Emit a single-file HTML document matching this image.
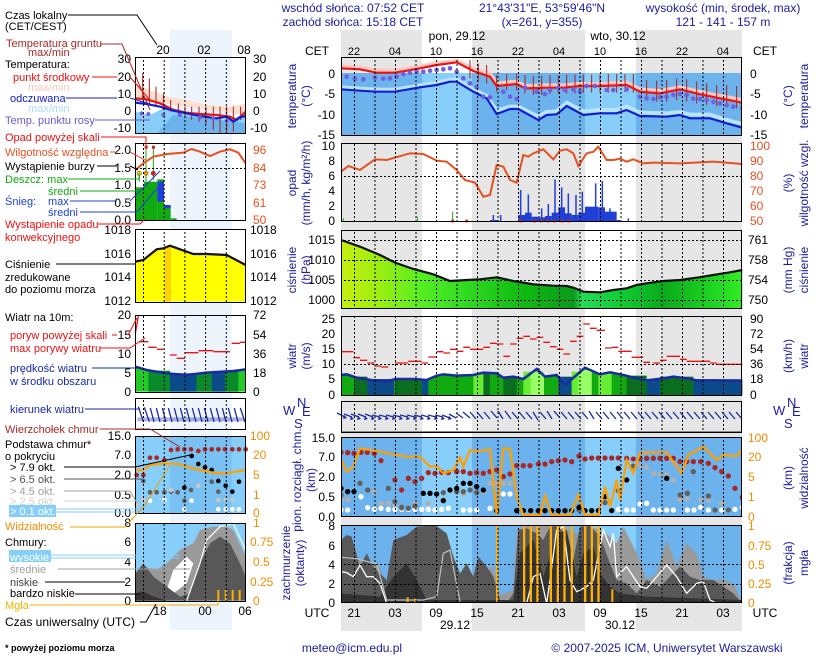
<!DOCTYPE html>
<html><head><meta charset="utf-8"><style>
html,body{margin:0;padding:0;background:#fff;width:820px;height:660px;overflow:hidden}
svg{display:block}
text{font-family:"Liberation Sans",sans-serif;font-size:11px}
.n{fill:#1c1c9c}
.s{vector-effect:non-scaling-stroke}
</style></head><body>
<svg width="820" height="660" viewBox="0 0 820 660" xmlns="http://www.w3.org/2000/svg">
<defs>
<pattern id="vg" x="354" y="0" width="20.5" height="4" patternUnits="userSpaceOnUse"><rect x="0" y="0" width="1" height="2" fill="#000"/></pattern>
<pattern id="mg" x="143" y="0" width="20.7" height="4" patternUnits="userSpaceOnUse"><rect x="0" y="0" width="1" height="2" fill="#000"/></pattern>
<pattern id="hg" x="0" y="0" width="4" height="4" patternUnits="userSpaceOnUse"><rect x="0" y="0" width="2" height="1" fill="#000"/></pattern>
<linearGradient id="pg" x1="0" x2="1" y1="0" y2="0">
<stop offset="0" stop-color="#c8ee10"/><stop offset="0.1" stop-color="#99ee11"/><stop offset="0.2" stop-color="#55ee22"/><stop offset="0.3" stop-color="#33dd22"/><stop offset="0.45" stop-color="#11bb11"/><stop offset="0.58" stop-color="#0a9a1a"/><stop offset="0.6" stop-color="#22dd55"/><stop offset="0.7" stop-color="#11cc33"/><stop offset="0.8" stop-color="#0aaa1a"/><stop offset="0.95" stop-color="#22dd22"/><stop offset="1" stop-color="#33ee22"/></linearGradient>
<clipPath id="cT"><rect x="341" y="57" width="401" height="78"/></clipPath>
<clipPath id="cC"><rect x="341" y="525" width="401" height="78"/></clipPath>
<clipPath id="cB"><rect x="341" y="437" width="401" height="80"/></clipPath>
<clipPath id="mT"><rect x="135" y="57" width="111" height="77"/></clipPath>
</defs>

<!-- header -->
<text class="n" x="353" y="12" text-anchor="middle" style="font-size:12px">wschód słońca: 07:52 CET</text>
<text class="n" x="353" y="26" text-anchor="middle" style="font-size:12px">zachód słońca: 15:18 CET</text>
<text class="n" x="542" y="12" text-anchor="middle" style="font-size:12px">21°43'31"E, 53°59'46"N</text>
<text class="n" x="542" y="26" text-anchor="middle" style="font-size:12px">(x=261,  y=355)</text>
<text class="n" x="723" y="12" text-anchor="middle" style="font-size:12px">wysokość (min, środek, max)</text>
<text class="n" x="723" y="26" text-anchor="middle" style="font-size:12px">121 - 141 - 157 m</text>

<!-- background columns -->
<rect x="341" y="30" width="401" height="601" fill="#e6e6e6"/>
<rect x="422" y="30" width="50" height="601" fill="#fff"/>
<rect x="585" y="30" width="51" height="601" fill="#fff"/>

<g style="font-size:12px">
<text x="457" y="40" text-anchor="middle" style="font-size:12px">pon, 29.12</text>
<text x="618" y="40" text-anchor="middle" style="font-size:12px">wto, 30.12</text>
<text x="317" y="55" text-anchor="middle" style="font-size:12px">CET</text><text x="765" y="55" text-anchor="middle" style="font-size:12px">CET</text>
</g>
<g text-anchor="middle"><text x="354" y="55">22</text><text x="395" y="55">04</text><text x="436" y="55">10</text><text x="477" y="55">16</text><text x="518" y="55">22</text><text x="559" y="55">04</text><text x="600" y="55">10</text><text x="641" y="55">16</text><text x="682" y="55">22</text><text x="723" y="55">04</text></g>

<!-- TEMP panel -->
<g clip-path="url(#cT)">
<rect x="341" y="73" width="401" height="62" fill="#6cb2ec"/>
<rect x="422" y="73" width="50" height="62" fill="#87cefa"/><rect x="585" y="73" width="51" height="62" fill="#87cefa"/>
<g transform="translate(280,0) scale(0.33333)">
<polyline class="s" fill="none" stroke="#fcc8c0" stroke-width="4" points="183,200 240,203 290,212 345,212 420,200 470,190 530,182 580,207 630,222 650,250 710,245 735,258 800,256 850,256 900,252 960,252 1040,248 1080,268 1140,273 1200,262 1260,276 1320,288 1387,300"/>
<polyline class="s" fill="none" stroke="#b8e4ff" stroke-width="4" points="183,262 240,266 290,269 345,269 420,256 470,249 510,239 530,239 580,268 620,288 650,332 690,320 715,320 775,350 800,336 830,334 860,308 910,334 960,330 1010,330 1040,320 1080,338 1160,340 1200,336 1230,344 1290,344 1340,360 1387,372"/>
<path class="s" d="M570 180V235M595 190V245M620 195V250M650 225V275M680 222V270M710 220V272M735 225V280M760 228V285M785 228V285M810 226V282M835 226V282M860 224V280M885 224V280M910 224V278M935 224V278M960 224V278M985 222V278M1010 222V278M1035 222V276M1060 222V278M1100 240V300M1130 242V305M1160 240V305M1190 235V300M1220 238V305M1250 245V310M1280 250V315M1310 255V318M1340 255V322M1370 258V325" stroke="#a82020" stroke-width="1"/>
<polyline class="s" fill="none" stroke="#ee1111" stroke-width="2.2" points="183,205 240,208 290,218 345,218 420,205 470,195 530,187 580,213 630,230 650,258 710,252 735,265 800,263 850,263 900,258 960,258 1040,255 1080,275 1140,280 1200,268 1260,283 1320,295 1387,308"/>
<polyline class="s" fill="none" stroke="#1020d0" stroke-width="2.2" points="183,268 240,272 290,275 345,275 420,262 470,255 510,245 530,245 580,275 620,295 650,342 690,327 715,327 775,360 800,345 830,343 860,318 910,345 960,340 1010,340 1040,330 1080,348 1160,350 1200,345 1230,355 1290,355 1340,370 1387,383"/>
<g fill="#7060e0">
<circle cx="200" cy="230" r="7"/><circle cx="225" cy="237" r="7"/><circle cx="250" cy="238" r="7"/><circle cx="285" cy="233" r="7"/><circle cx="310" cy="236" r="7"/><circle cx="330" cy="235" r="7"/><circle cx="350" cy="230" r="7"/><circle cx="370" cy="222" r="7"/><circle cx="390" cy="218" r="7"/><circle cx="410" cy="215" r="7"/><circle cx="430" cy="215" r="7"/><circle cx="450" cy="212" r="7"/><circle cx="470" cy="210" r="7"/><circle cx="490" cy="208" r="7"/><circle cx="510" cy="205" r="7"/><circle cx="530" cy="215" r="7"/><circle cx="550" cy="235" r="7"/><circle cx="570" cy="250" r="7"/><circle cx="590" cy="262" r="7"/><circle cx="610" cy="290" r="7"/><circle cx="630" cy="292" r="7"/><circle cx="670" cy="275" r="7"/><circle cx="690" cy="290" r="7"/><circle cx="710" cy="297" r="7"/><circle cx="735" cy="263" r="7"/><circle cx="770" cy="275" r="7"/><circle cx="795" cy="282" r="7"/><circle cx="810" cy="270" r="7"/><circle cx="835" cy="263" r="7"/><circle cx="855" cy="270" r="7"/><circle cx="880" cy="268" r="7"/><circle cx="900" cy="275" r="7"/><circle cx="920" cy="258" r="7"/><circle cx="945" cy="258" r="7"/><circle cx="980" cy="270" r="7"/><circle cx="1000" cy="270" r="7"/><circle cx="1040" cy="268" r="7"/><circle cx="1080" cy="290" r="7"/><circle cx="1100" cy="295" r="7"/><circle cx="1120" cy="297" r="7"/><circle cx="1140" cy="292" r="7"/><circle cx="1160" cy="290" r="7"/><circle cx="1180" cy="285" r="7"/><circle cx="1200" cy="282" r="7"/><circle cx="1220" cy="285" r="7"/><circle cx="1240" cy="296" r="7"/><circle cx="1260" cy="297" r="7"/><circle cx="1280" cy="300" r="7"/><circle cx="1300" cy="305" r="7"/><circle cx="1320" cy="310" r="7"/><circle cx="1340" cy="316" r="7"/><circle cx="1360" cy="320" r="7"/><circle cx="1387" cy="325" r="7"/>
</g>
</g>
</g>
<rect x="341" y="57" width="401" height="78" fill="url(#vg)"/>
<g fill="url(#hg)"><rect x="341" y="73" width="401" height="1"/><rect x="341" y="93" width="401" height="1"/><rect x="341" y="114" width="401" height="1"/></g>
<rect x="341.5" y="57.5" width="400" height="78" fill="none" stroke="#000"/>
<g text-anchor="end" style="font-size:12px"><text x="335" y="78" style="font-size:12px">0</text><text x="335" y="98" style="font-size:12px">-5</text><text x="335" y="119" style="font-size:12px">-10</text><text x="335" y="139" style="font-size:12px">-15</text></g>
<g><text x="750" y="78" style="font-size:12px">0</text><text x="750" y="98" style="font-size:12px">-5</text><text x="750" y="119" style="font-size:12px">-10</text><text x="750" y="139" style="font-size:12px">-15</text></g>

<!-- PRECIP panel -->
<g transform="translate(280,0) scale(0.33333)">
<g fill="#1f3fd6">
<rect x="715" y="645" width="20" height="20"/><rect x="735" y="638" width="20" height="27"/><rect x="755" y="650" width="20" height="15"/><rect x="775" y="652" width="20" height="13"/><rect x="795" y="648" width="20" height="17"/><rect x="815" y="638" width="20" height="27"/><rect x="835" y="622" width="20" height="43"/><rect x="855" y="640" width="20" height="25"/><rect x="875" y="645" width="20" height="20"/><rect x="895" y="638" width="20" height="27"/><rect x="915" y="620" width="40" height="45"/><rect x="955" y="622" width="20" height="43"/><rect x="975" y="635" width="35" height="30"/><rect x="1010" y="660" width="10" height="5"/><rect x="630" y="660" width="25" height="5"/>
</g>
<path class="s" stroke="#1f3fd6" stroke-width="1.5" fill="none" d="M722 665V570M745 665V583M785 665V625M805 665V612M825 665V538M845 665V562M865 665V580M888 665V585M907 665V575M947 665V550M967 665V543M990 665V625M1045 665V655M640 665V645M662 665V645"/>
<path class="s" stroke="#11aa11" stroke-width="1" fill="none" d="M190 665V655M412 665V650M518 665V635"/>
<g fill="#e02020"><rect x="514" y="659" width="8" height="8"/><rect x="556" y="659" width="8" height="8"/><rect x="718" y="659" width="8" height="8"/><rect x="760" y="659" width="8" height="8"/><rect x="780" y="659" width="8" height="8"/><rect x="800" y="659" width="8" height="8"/><rect x="820" y="659" width="8" height="8"/><rect x="842" y="659" width="8" height="8"/><rect x="862" y="659" width="8" height="8"/></g>
<polyline class="s" fill="none" stroke="#e85020" stroke-width="2" points="183,515 205,498 240,510 285,478 320,480 390,460 430,462 470,482 500,485 530,510 555,540 585,548 610,590 630,585 650,495 670,500 690,540 710,548 730,465 745,470 760,460 790,448 820,478 840,452 860,448 880,460 895,498 920,460 940,455 955,440 980,480 1000,480 1020,476 1040,485 1060,478 1090,490 1120,488 1200,490 1300,485 1387,492"/>
</g>
<rect x="341" y="143" width="401" height="79" fill="url(#vg)"/>
<g fill="url(#hg)"><rect x="341" y="161" width="401" height="1"/><rect x="341" y="176" width="401" height="1"/><rect x="341" y="191" width="401" height="1"/><rect x="341" y="206" width="401" height="1"/></g>
<rect x="341.5" y="143.5" width="400" height="78" fill="none" stroke="#000"/>
<g text-anchor="end"><text x="335" y="150" style="font-size:12px">10</text><text x="335" y="165" style="font-size:12px">8</text><text x="335" y="180" style="font-size:12px">6</text><text x="335" y="195" style="font-size:12px">4</text><text x="335" y="210" style="font-size:12px">2</text><text x="335" y="225" style="font-size:12px">0</text></g>
<g fill="#e85020"><text x="750" y="150" style="font-size:12px">100</text><text x="750" y="165" style="font-size:12px">90</text><text x="750" y="180" style="font-size:12px">80</text><text x="750" y="195" style="font-size:12px">70</text><text x="750" y="210" style="font-size:12px">60</text><text x="750" y="225" style="font-size:12px">50</text></g>

<!-- PRESSURE -->
<g transform="translate(280,225) scale(0.33333)">
<polygon fill="url(#pg)" points="183,45 240,65 300,90 345,113 400,132 460,148 510,168 560,165 600,163 650,157 700,168 760,178 820,182 860,183 880,188 910,200 960,202 1000,195 1040,190 1070,180 1100,175 1150,168 1200,165 1250,158 1300,150 1350,142 1387,135 1387,250 183,250"/>
<polyline class="s" fill="none" stroke="#111" stroke-width="2.2" points="183,45 240,65 300,90 345,113 400,132 460,148 510,168 560,165 600,163 650,157 700,168 760,178 820,182 860,183 880,188 910,200 960,202 1000,195 1040,190 1070,180 1100,175 1150,168 1200,165 1250,158 1300,150 1350,142 1387,135"/>
</g>
<rect x="341" y="230" width="401" height="78" fill="url(#vg)"/>
<g fill="url(#hg)"><rect x="341" y="240" width="401" height="1"/><rect x="341" y="260" width="401" height="1"/><rect x="341" y="280" width="401" height="1"/><rect x="341" y="300" width="401" height="1"/></g>
<rect x="341.5" y="230.5" width="400" height="78" fill="none" stroke="#000"/>
<g text-anchor="end"><text x="335" y="244" style="font-size:12px">1015</text><text x="335" y="264" style="font-size:12px">1010</text><text x="335" y="284" style="font-size:12px">1005</text><text x="335" y="304" style="font-size:12px">1000</text></g>
<g><text x="748" y="244" style="font-size:12px">761</text><text x="748" y="264" style="font-size:12px">758</text><text x="748" y="284" style="font-size:12px">754</text><text x="748" y="304" style="font-size:12px">750</text></g>

<!-- WIND -->
<g transform="translate(280,225) scale(0.33333)">
<polygon fill="#11aa11" points="183,450 200,448 230,458 280,466 320,470 345,462 400,462 440,465 470,452 490,448 530,452 580,450 610,443 650,445 670,458 700,455 730,462 770,432 795,455 830,450 855,480 915,428 960,448 990,442 1040,452 1060,458 1100,466 1150,460 1180,455 1220,460 1250,466 1300,466 1387,467 1387,510 183,510"/>
<g fill="#0a6e1e"><rect x="222" y="455" width="40" height="55"/><rect x="345" y="460" width="80" height="50"/><rect x="610" y="445" width="20" height="65"/><rect x="670" y="455" width="40" height="55"/><rect x="1040" y="452" width="60" height="58"/><rect x="1140" y="455" width="100" height="55"/></g>
<g fill="#0b4b8a"><rect x="262" y="462" width="80" height="48"/><rect x="425" y="462" width="20" height="48"/><rect x="835" y="455" width="40" height="55"/><rect x="1100" y="463" width="40" height="47"/><rect x="1240" y="463" width="147" height="47"/></g>
<g fill="#66ee33"><rect x="580" y="448" width="30" height="62"/><rect x="730" y="440" width="60" height="70"/><rect x="875" y="440" width="60" height="70"/><rect x="955" y="445" width="40" height="65"/></g>
<g fill="#99ff66"><rect x="752" y="440" width="40" height="70"/><rect x="895" y="435" width="40" height="75"/></g>
<polyline class="s" fill="none" stroke="#1a2aa0" stroke-width="2.5" points="183,450 200,448 230,458 280,466 320,470 345,462 400,462 440,465 470,452 490,448 530,452 580,450 610,443 650,445 670,458 700,455 730,462 770,432 795,455 830,450 855,480 915,428 960,448 990,442 1040,452 1060,458 1100,466 1150,460 1180,455 1220,460 1250,466 1300,466 1387,467"/>
<path class="s" stroke="#ee1111" stroke-width="1.3" fill="none" d="M183 380H220M220 398H240M240 406H262M262 414H283M283 423H303M303 426H325M345 414H385M385 409H425M425 414H445M445 396H470M470 380H490M490 384H510M510 373H530M530 379H550M550 367H570M570 373H610M610 367H630M630 355H650M650 357H670M670 394H690M690 357H710M710 340H730M730 334H750M750 342H770M770 337H790M790 352H810M810 365H830M830 373H850M850 387H870M870 349H890M890 334H910M910 297H930M930 310H950M950 316H975M975 369H995M995 367H1015M1015 379H1055M1055 397H1090M1090 412H1110M1120 414H1140M1140 406H1160M1160 394H1200M1200 403H1220M1220 409H1250M1250 409H1290M1290 414H1310M1310 418H1387"/>
</g>
<rect x="341" y="316" width="401" height="79" fill="url(#vg)"/>
<g fill="url(#hg)"><rect x="341" y="334" width="401" height="1"/><rect x="341" y="349" width="401" height="1"/><rect x="341" y="364" width="401" height="1"/><rect x="341" y="379" width="401" height="1"/></g>
<rect x="341.5" y="316.5" width="400" height="79" fill="none" stroke="#000"/>
<g text-anchor="end"><text x="335" y="323" style="font-size:12px">25</text><text x="335" y="338" style="font-size:12px">20</text><text x="335" y="353" style="font-size:12px">15</text><text x="335" y="368" style="font-size:12px">10</text><text x="335" y="383" style="font-size:12px">5</text><text x="335" y="399" style="font-size:12px">0</text></g>
<g><text x="750" y="323" style="font-size:12px">90</text><text x="750" y="338" style="font-size:12px">72</text><text x="750" y="353" style="font-size:12px">54</text><text x="750" y="368" style="font-size:12px">36</text><text x="750" y="383" style="font-size:12px">18</text><text x="750" y="399" style="font-size:12px">0</text></g>

<!-- WIND DIR -->
<rect x="341" y="401" width="401" height="31" fill="url(#vg)"/>
<rect x="341" y="431" width="401" height="2" fill="#888"/>
<rect x="341.5" y="401.5" width="400" height="31" fill="none" stroke="#000"/>
<g stroke="#1a2aa0" stroke-width="1.3" fill="none">
<path d="M337 413l8 4M344 414l8 3M351 414l8 3M358 414l8 3M365 414l8 3M372 415l8 2M379 415l8 2M386 415l8 2M393 415l8 2M400 415l8 2M407 415l8 2M414 415l8 2M421 415l8 2M428 415l8 2M435 415l8 2M442 415l8 3M449 414l7 4M456 413l7 5M463 412l7 6M470 412l6 7M477 412l6 7M484 412l6 7M491 411l6 7M498 411l5 8M505 411l6 8M512 412l6 7M519 412l6 7M526 412l6 7M533 412l5 8M540 412l6 7M547 411l5 8M554 411l6 7M561 412l6 7M568 412l6 7M575 412l6 7M582 412l6 7M589 411l5 8M596 412l6 7M603 412l6 7M610 412l6 7M617 412l6 7M624 412l6 7M631 412l6 7M638 412l6 7M645 412l6 7M652 412l6 7M659 412l6 7M666 412l6 7M673 412l6 7M680 412l6 7M687 412l6 7M694 412l6 7M701 412l6 7M708 412l6 7M715 412l6 7M722 412l6 7M729 412l6 7M736 412l6 7"/>
</g>
<g fill="#1a2aa0"><path d="M344 415l3 3l-4 1zM351 416l3 3l-4 1zM358 416l3 3l-4 1zM365 416l3 3l-4 1zM372 416l3 3l-4 1zM379 416l3 3l-4 1zM386 416l3 3l-4 1zM393 416l3 3l-4 1zM400 416l3 3l-4 1zM407 416l3 3l-4 1zM414 416l3 3l-4 1zM421 416l3 3l-4 1zM428 416l3 3l-4 1zM435 416l3 3l-4 1zM442 416l3 3l-4 1zM449 416l3 3l-4 1z"/></g>
<text class="n" x="283" y="415" style="font-size:13px">W</text><text class="n" x="297" y="407" style="font-size:13px">N</text><text class="n" x="294" y="428" style="font-size:13px">S</text><text class="n" x="302" y="416" style="font-size:13px">E</text>
<text class="n" x="773" y="415" style="font-size:13px">W</text><text class="n" x="787" y="407" style="font-size:13px">N</text><text class="n" x="784" y="428" style="font-size:13px">S</text><text class="n" x="792" y="416" style="font-size:13px">E</text>

<!-- CLOUD BASE -->
<g clip-path="url(#cB)">
<rect x="341" y="437" width="401" height="80" fill="#6cb2ec"/>
<rect x="422" y="437" width="50" height="80" fill="#87cefa"/><rect x="585" y="437" width="51" height="80" fill="#87cefa"/>
<g transform="translate(280,420) scale(0.33333)">
<g fill="#a82828"><circle cx="183" cy="97" r="8"/><circle cx="203" cy="98" r="8"/><circle cx="222" cy="100" r="8"/><circle cx="243" cy="97" r="8"/><circle cx="262" cy="97" r="8"/><circle cx="283" cy="100" r="8"/><circle cx="303" cy="122" r="8"/><circle cx="345" cy="180" r="8"/><circle cx="365" cy="210" r="8"/><circle cx="385" cy="175" r="8"/><circle cx="405" cy="185" r="8"/><circle cx="425" cy="175" r="8"/><circle cx="445" cy="158" r="8"/><circle cx="465" cy="160" r="8"/><circle cx="485" cy="157" r="8"/><circle cx="505" cy="158" r="8"/><circle cx="530" cy="155" r="8"/><circle cx="550" cy="155" r="8"/><circle cx="570" cy="160" r="8"/><circle cx="590" cy="158" r="8"/><circle cx="610" cy="160" r="8"/><circle cx="630" cy="155" r="8"/><circle cx="650" cy="150" r="8"/><circle cx="670" cy="170" r="8"/><circle cx="690" cy="162" r="8"/><circle cx="710" cy="137" r="8"/><circle cx="730" cy="137" r="8"/><circle cx="750" cy="137" r="8"/><circle cx="775" cy="132" r="8"/><circle cx="795" cy="132" r="8"/><circle cx="815" cy="125" r="8"/><circle cx="835" cy="122" r="8"/><circle cx="855" cy="120" r="8"/><circle cx="875" cy="125" r="8"/><circle cx="897" cy="108" r="8"/><circle cx="915" cy="117" r="8"/><circle cx="935" cy="114" r="8"/><circle cx="955" cy="114" r="8"/><circle cx="975" cy="114" r="8"/><circle cx="995" cy="114" r="8"/><circle cx="1015" cy="114" r="8"/><circle cx="1040" cy="115" r="8"/><circle cx="1060" cy="117" r="8"/><circle cx="1080" cy="115" r="8"/><circle cx="1100" cy="115" r="8"/><circle cx="1120" cy="115" r="8"/><circle cx="1140" cy="115" r="8"/><circle cx="1160" cy="115" r="8"/><circle cx="1180" cy="115" r="8"/><circle cx="1200" cy="125" r="8"/><circle cx="1220" cy="125" r="8"/><circle cx="1240" cy="125" r="8"/><circle cx="1262" cy="125" r="8"/><circle cx="1285" cy="130" r="8"/><circle cx="1305" cy="143" r="8"/><circle cx="1325" cy="155" r="8"/><circle cx="1345" cy="168" r="8"/><circle cx="1365" cy="205" r="8"/><circle cx="1387" cy="232" r="8"/></g>
<g fill="#ffffff"><circle cx="183" cy="270" r="8"/><circle cx="203" cy="270" r="8"/><circle cx="243" cy="230" r="8"/><circle cx="263" cy="263" r="8"/><circle cx="283" cy="268" r="8"/><circle cx="303" cy="265" r="8"/><circle cx="325" cy="268" r="8"/><circle cx="345" cy="268" r="8"/><circle cx="365" cy="268" r="8"/><circle cx="385" cy="268" r="8"/><circle cx="405" cy="268" r="8"/><circle cx="425" cy="268" r="8"/><circle cx="445" cy="268" r="8"/><circle cx="465" cy="270" r="8"/><circle cx="485" cy="268" r="8"/><circle cx="505" cy="265" r="8"/><circle cx="550" cy="270" r="8"/><circle cx="570" cy="270" r="8"/><circle cx="590" cy="270" r="8"/><circle cx="630" cy="265" r="8"/><circle cx="670" cy="222" r="8"/><circle cx="690" cy="222" r="8"/><circle cx="1015" cy="268" r="8"/><circle cx="1040" cy="270" r="8"/><circle cx="1060" cy="270" r="8"/><circle cx="1080" cy="252" r="8"/><circle cx="1100" cy="250" r="8"/><circle cx="1120" cy="270" r="8"/><circle cx="1140" cy="270" r="8"/><circle cx="1160" cy="270" r="8"/><circle cx="1180" cy="270" r="8"/><circle cx="1222" cy="270" r="8"/><circle cx="1242" cy="270" r="8"/><circle cx="1262" cy="262" r="8"/><circle cx="1285" cy="270" r="8"/><circle cx="1325" cy="270" r="8"/><circle cx="1345" cy="270" r="8"/><circle cx="1365" cy="268" r="8"/><circle cx="1387" cy="262" r="8"/></g>
<g fill="#b0b0b0"><circle cx="183" cy="240" r="8"/><circle cx="203" cy="238" r="8"/><circle cx="283" cy="215" r="8"/><circle cx="303" cy="250" r="8"/><circle cx="325" cy="250" r="8"/><circle cx="345" cy="255" r="8"/><circle cx="365" cy="265" r="8"/><circle cx="405" cy="250" r="8"/><circle cx="445" cy="250" r="8"/><circle cx="490" cy="240" r="8"/><circle cx="550" cy="222" r="8"/><circle cx="610" cy="215" r="8"/><circle cx="630" cy="190" r="8"/><circle cx="650" cy="190" r="8"/><circle cx="670" cy="190" r="8"/><circle cx="690" cy="190" r="8"/><circle cx="1080" cy="137" r="8"/><circle cx="1100" cy="142" r="8"/><circle cx="1120" cy="160" r="8"/><circle cx="1140" cy="162" r="8"/><circle cx="1160" cy="165" r="8"/><circle cx="1180" cy="180" r="8"/><circle cx="1200" cy="238" r="8"/><circle cx="1222" cy="237" r="8"/><circle cx="1262" cy="240" r="8"/><circle cx="1285" cy="240" r="8"/><circle cx="1325" cy="250" r="8"/></g>
<g fill="#606060"><circle cx="183" cy="225" r="8"/><circle cx="240" cy="190" r="8"/><circle cx="263" cy="210" r="8"/><circle cx="325" cy="205" r="8"/><circle cx="345" cy="245" r="8"/><circle cx="365" cy="262" r="8"/><circle cx="385" cy="265" r="8"/><circle cx="405" cy="258" r="8"/><circle cx="490" cy="218" r="8"/><circle cx="530" cy="215" r="8"/><circle cx="550" cy="215" r="8"/><circle cx="570" cy="210" r="8"/><circle cx="590" cy="218" r="8"/><circle cx="897" cy="270" r="8"/><circle cx="975" cy="248" r="8"/><circle cx="1015" cy="212" r="8"/><circle cx="1060" cy="138" r="8"/><circle cx="1200" cy="225" r="8"/><circle cx="1222" cy="220" r="8"/><circle cx="1240" cy="155" r="8"/><circle cx="1285" cy="228" r="8"/><circle cx="1305" cy="270" r="8"/><circle cx="1345" cy="270" r="8"/></g>
<g fill="#000"><circle cx="183" cy="205" r="8"/><circle cx="203" cy="215" r="8"/><circle cx="222" cy="215" r="8"/><circle cx="430" cy="220" r="8"/><circle cx="450" cy="220" r="8"/><circle cx="470" cy="222" r="8"/><circle cx="490" cy="242" r="8"/><circle cx="510" cy="210" r="8"/><circle cx="530" cy="205" r="8"/><circle cx="550" cy="190" r="8"/><circle cx="570" cy="190" r="8"/><circle cx="590" cy="200" r="8"/><circle cx="610" cy="210" r="8"/><circle cx="650" cy="272" r="8"/><circle cx="710" cy="272" r="8"/><circle cx="730" cy="272" r="8"/><circle cx="752" cy="272" r="8"/><circle cx="775" cy="272" r="8"/><circle cx="795" cy="272" r="8"/><circle cx="815" cy="272" r="8"/><circle cx="835" cy="272" r="8"/><circle cx="855" cy="272" r="8"/><circle cx="875" cy="272" r="8"/><circle cx="897" cy="262" r="8"/><circle cx="915" cy="272" r="8"/><circle cx="935" cy="272" r="8"/><circle cx="955" cy="272" r="8"/><circle cx="975" cy="230" r="8"/><circle cx="995" cy="272" r="8"/><circle cx="1015" cy="145" r="8"/><circle cx="1040" cy="180" r="8"/><circle cx="1160" cy="175" r="8"/></g>
<polyline class="s" fill="none" stroke="#ffa000" stroke-width="2.2" points="183,118 200,155 220,140 240,85 300,95 380,110 420,110 450,140 470,138 490,160 520,150 540,112 550,140 570,90 590,95 630,88 650,285 670,85 690,87 710,230 730,285 780,285 795,228 815,285 870,285 895,225 915,285 955,285 975,200 990,260 1010,180 1020,240 1040,120 1060,160 1080,98 1120,97 1160,97 1190,140 1205,160 1225,105 1270,80 1310,120 1330,105 1370,108 1387,88"/>
</g>
</g>
<rect x="341" y="437" width="401" height="80" fill="url(#vg)"/>
<g fill="url(#hg)"><rect x="341" y="457" width="401" height="1"/><rect x="341" y="477" width="401" height="1"/><rect x="341" y="497" width="401" height="1"/></g>
<rect x="341.5" y="437.5" width="400" height="79" fill="none" stroke="#000"/>
<g text-anchor="end"><text x="335" y="442" style="font-size:12px">15.0</text><text x="335" y="461" style="font-size:12px">7.0</text><text x="335" y="481" style="font-size:12px">2.0</text><text x="335" y="501" style="font-size:12px">0.5</text><text x="335" y="521" style="font-size:12px">0.0</text></g>
<g fill="#f08c00"><text x="748" y="442" style="font-size:12px">100</text><text x="748" y="461" style="font-size:12px">20</text><text x="748" y="481" style="font-size:12px">5</text><text x="748" y="501" style="font-size:12px">1</text><text x="748" y="521" style="font-size:12px">0</text></g>

<!-- CLOUD COVER -->
<g clip-path="url(#cC)">
<rect x="341" y="525" width="401" height="78" fill="#6cb2ec"/>
<rect x="422" y="525" width="50" height="78" fill="#87cefa"/><rect x="585" y="525" width="51" height="78" fill="#87cefa"/>
<g transform="translate(280,420) scale(0.33333)">
<polygon fill="#9a9a9a" points="183,550 183,410 230,420 270,425 300,440 320,540 470,540 490,400 510,390 530,550 560,545 585,445 600,420 620,450 640,440 660,525 700,510 710,330 740,318 800,318 840,318 870,330 900,345 920,318 960,330 990,350 1010,370 1030,320 1050,360 1070,400 1100,480 1130,460 1160,360 1190,440 1220,370 1250,400 1270,470 1300,480 1330,480 1360,490 1387,550"/>
<polygon fill="#585858" points="183,550 183,360 200,345 215,350 240,440 260,400 280,440 300,460 320,480 340,360 380,345 410,320 440,318 470,318 500,340 520,410 540,460 560,430 580,470 595,410 620,440 640,470 660,540 680,550 700,520 715,330 740,325 770,340 790,360 810,320 840,318 860,380 880,420 900,320 930,318 960,350 990,430 1010,480 1040,490 1070,520 1100,480 1140,500 1170,470 1200,440 1230,470 1260,480 1300,480 1330,500 1360,520 1387,550"/>
<polygon fill="#333" points="183,550 183,520 300,530 340,470 380,430 410,480 440,540 700,540 720,400 760,360 790,470 830,340 860,330 890,470 910,400 940,380 960,460 990,500 1020,520 1100,530 1387,540 1387,550"/>
<polyline class="s" fill="none" stroke="#fff" stroke-width="1.3" points="183,455 200,458 220,470 240,435 260,470 280,470 300,490 320,550 740,550 760,470 780,460 800,550 810,480 830,330 850,320 870,480 890,515 920,500 940,480 970,330 990,380 1000,340 1010,470 1040,440 1060,470 1080,500 1100,505 1130,470 1160,435 1190,470 1220,520 1250,490 1270,485 1290,540 1310,550"/>
<polyline class="s" fill="none" stroke="#c0c0c0" stroke-width="1.2" points="183,412 230,416 290,432 320,540 430,540 470,530 490,400 510,390 540,545"/>
<g fill="#ffb000"><rect x="648" y="318" width="6" height="232"/><rect x="729" y="318" width="7" height="232"/><rect x="749" y="318" width="7" height="232"/><rect x="769" y="318" width="7" height="232"/><rect x="809" y="318" width="7" height="232"/><rect x="830" y="318" width="7" height="232"/><rect x="850" y="318" width="7" height="232"/><rect x="872" y="318" width="7" height="232"/><rect x="912" y="318" width="7" height="232"/><rect x="932" y="318" width="7" height="232"/><rect x="952" y="318" width="7" height="232"/><rect x="380" y="532" width="6" height="18"/><rect x="402" y="536" width="6" height="14"/><rect x="994" y="508" width="6" height="42"/></g>
</g>
</g>
<rect x="341" y="525" width="401" height="78" fill="url(#vg)"/>
<g fill="url(#hg)"><rect x="341" y="545" width="401" height="1"/><rect x="341" y="564" width="401" height="1"/><rect x="341" y="584" width="401" height="1"/></g>
<rect x="341.5" y="525.5" width="400" height="77" fill="none" stroke="#000"/>
<g text-anchor="end"><text x="335" y="530" style="font-size:12px">8</text><text x="335" y="550" style="font-size:12px">6</text><text x="335" y="569" style="font-size:12px">4</text><text x="335" y="588" style="font-size:12px">2</text><text x="335" y="607" style="font-size:12px">0</text></g>
<g fill="#f08c00"><text x="748" y="530" style="font-size:12px">1</text><text x="748" y="550" style="font-size:12px">0.75</text><text x="748" y="569" style="font-size:12px">0.5</text><text x="748" y="588" style="font-size:12px">0.25</text><text x="748" y="607" style="font-size:12px">0</text></g>

<text x="317" y="617" text-anchor="middle" style="font-size:12px">UTC</text><text x="765" y="617" text-anchor="middle" style="font-size:12px">UTC</text>
<g text-anchor="middle"><text x="354" y="617" style="font-size:12px">21</text><text x="395" y="617" style="font-size:12px">03</text><text x="436" y="617" style="font-size:12px">09</text><text x="477" y="617" style="font-size:12px">15</text><text x="518" y="617" style="font-size:12px">21</text><text x="559" y="617" style="font-size:12px">03</text><text x="600" y="617" style="font-size:12px">09</text><text x="641" y="617" style="font-size:12px">15</text><text x="682" y="617" style="font-size:12px">21</text><text x="723" y="617" style="font-size:12px">03</text>
<text x="455" y="629" style="font-size:12px">29.12</text><text x="620" y="629" style="font-size:12px">30.12</text></g>

<!-- rotated axis labels -->
<g class="n" text-anchor="middle">
<text transform="translate(296,96) rotate(-90)" style="font-size:12px">temperatura</text><text transform="translate(310,96) rotate(-90)" style="font-size:12px">(°C)</text>
<text transform="translate(792,96) rotate(-90)" style="font-size:12px">(°C)</text><text transform="translate(808,96) rotate(-90)" style="font-size:12px">temperatura</text>
<text transform="translate(296,183) rotate(-90)" style="font-size:12px">opad</text><text transform="translate(310,183) rotate(-90)" style="font-size:12px">(mm/h, kg/m²/h)</text>
<text transform="translate(792,183) rotate(-90)" style="font-size:12px">(%)</text><text transform="translate(808,183) rotate(-90)" style="font-size:12px">wilgotność wzgl.</text>
<text transform="translate(296,270) rotate(-90)" style="font-size:12px">ciśnienie</text><text transform="translate(310,270) rotate(-90)" style="font-size:12px">(hPa)</text>
<text transform="translate(792,270) rotate(-90)" style="font-size:12px">(mm Hg)</text><text transform="translate(808,270) rotate(-90)" style="font-size:12px">ciśnienie</text>
<text transform="translate(296,356) rotate(-90)" style="font-size:12px">wiatr</text><text transform="translate(310,356) rotate(-90)" style="font-size:12px">(m/s)</text>
<text transform="translate(792,356) rotate(-90)" style="font-size:12px">(km/h)</text><text transform="translate(808,356) rotate(-90)" style="font-size:12px">wiatr</text>
<text transform="translate(301,480) rotate(-90)" style="font-size:12px">pion. rozciągł. chm.</text><text transform="translate(315,480) rotate(-90)" style="font-size:12px">(km)</text>
<text transform="translate(792,478) rotate(-90)" style="font-size:12px">(km)</text><text transform="translate(808,478) rotate(-90)" style="font-size:12px">widzialność</text>
<text transform="translate(290,563) rotate(-90)" style="font-size:12px">zachmurzenie</text><text transform="translate(304,563) rotate(-90)" style="font-size:12px">(oktanty)</text>
<text transform="translate(792,563) rotate(-90)" style="font-size:12px">(frakcja)</text><text transform="translate(808,563) rotate(-90)" style="font-size:12px">mgła</text>
</g>

<!-- footer -->
<text class="n" x="352" y="652" text-anchor="middle" style="font-size:12px">meteo@icm.edu.pl</text>
<text class="n" x="667" y="652" text-anchor="middle" style="font-size:12px">© 2007-2025 ICM, Uniwersytet Warszawski</text>

<!-- ===== LEFT LEGEND MINI CHART ===== -->
<rect x="170" y="30" width="62" height="600" fill="#eef4fc"/>
<g text-anchor="middle"><text x="163" y="54" style="font-size:12px">20</text><text x="204" y="54" style="font-size:12px">02</text><text x="244" y="54" style="font-size:12px">08</text>
<text x="160" y="615" style="font-size:12px">18</text><text x="205" y="615" style="font-size:12px">00</text><text x="245" y="615" style="font-size:12px">06</text></g>

<g transform="scale(0.33333)">
<g clip-path="url(#mT)" transform="scale(3)"><g transform="scale(0.33333)">
<rect x="406" y="170" width="331" height="233" fill="#fff"/>
<rect x="510" y="170" width="185" height="233" fill="#eef4fc"/>
<polygon fill="#fde0d0" points="406,250 450,270 500,290 560,300 620,315 690,320 737,310 737,345 406,300"/>
<polygon fill="#87cefa" points="406,335 450,345 500,320 560,335 600,350 640,355 690,360 737,340 737,403 406,403"/>
<polygon fill="#6cb2ec" points="470,403 520,345 600,352 737,370 737,403"/>
<path class="s" stroke="#a82020" fill="none" d="M428 220V300M448 235V310M468 260V320M490 280V330M512 300V335M535 310V345M555 320V355M575 320V360M597 320V365M618 320V375M640 320V390M660 320V400M680 320V400M700 320V395M722 320V360"/>
<polyline class="s" fill="none" stroke="#ee1111" stroke-width="2.2" points="406,295 440,298 480,310 520,330 560,338 600,342 650,345 690,350 710,360 737,335"/>
<polyline class="s" fill="none" stroke="#1020d0" stroke-width="2.2" points="406,308 440,312 480,320 520,332 560,340 600,348 650,355 680,350 700,365 720,352 737,348"/>
<g fill="#7060e0"><circle cx="425" cy="340" r="6"/><circle cx="445" cy="342" r="6"/><circle cx="490" cy="345" r="6"/><circle cx="540" cy="345" r="6"/><circle cx="600" cy="352" r="6"/><circle cx="640" cy="355" r="6"/><circle cx="680" cy="362" r="6"/></g>
</g></g>
<rect x="406" y="430" width="331" height="230" fill="#fff"/>
<rect x="510" y="430" width="185" height="230" fill="#eef4fc"/>
<g fill="#11aa11"><rect x="406" y="562" width="26" height="98"/><rect x="432" y="545" width="40" height="115"/><rect x="472" y="538" width="20" height="122"/><rect x="492" y="620" width="20" height="40"/><rect x="512" y="655" width="18" height="5"/></g>
<g fill="#1f3fd6"><rect x="472" y="545" width="20" height="60"/><rect x="492" y="615" width="20" height="10"/></g>
<path class="s" stroke="#11aa11" fill="none" d="M418 520V545M438 441V545M460 441V540"/>
<g fill="#e02020"><rect x="434" y="437" width="9" height="9"/><rect x="456" y="437" width="9" height="9"/></g>
<circle cx="418" cy="520" r="6" fill="#ffe000" stroke="#8a5000" stroke-width="2"/><circle cx="438" cy="520" r="6" fill="#f0a000" stroke="#8a5000" stroke-width="2"/><circle cx="460" cy="520" r="6" fill="#e02020" stroke="#8a2000" stroke-width="2"/>
<polyline class="s" fill="none" stroke="#e85020" stroke-width="2" points="406,510 430,490 460,470 500,462 550,458 575,447 600,455 630,468 660,455 690,448 715,458 737,490"/>
<rect x="406" y="688" width="331" height="217" fill="#fff"/>
<polygon fill="#ffff00" points="406,785 430,780 470,748 490,745 510,737 540,748 580,762 620,762 680,765 737,795 737,905 406,905"/>
<rect x="495" y="740" width="18" height="165" fill="#ffd200"/>
<polyline class="s" fill="none" stroke="#111" stroke-width="2.2" points="406,785 430,780 470,748 490,745 510,737 540,748 580,762 620,762 680,765 737,795"/>
</g>
<g transform="translate(0,310) scale(0.33333)">
<rect x="406" y="15" width="331" height="230" fill="#fff"/>
<rect x="510" y="15" width="185" height="230" fill="#eef4fc"/>
<polygon fill="#22cc22" points="406,170 440,180 500,190 560,195 620,188 700,183 737,178 737,245 406,245"/>
<rect x="445" y="182" width="65" height="63" fill="#0a8a2a"/><rect x="510" y="190" width="80" height="55" fill="#0b4b8a"/><rect x="590" y="188" width="45" height="57" fill="#0a8a2a"/><rect x="635" y="186" width="40" height="59" fill="#0b4b8a"/><rect x="675" y="184" width="40" height="61" fill="#0a8a2a"/>
<polyline class="s" fill="none" stroke="#1a2aa0" stroke-width="2.5" points="406,170 440,180 500,190 560,195 620,188 700,183 737,178"/>
<path class="s" stroke="#ee1111" fill="none" stroke-width="1.3" d="M406 70L415 18M420 95H445M445 112H470M470 118H490M510 135H530M530 145H555M555 128H595M595 122H640M640 125H690M695 100H720M720 97H737"/>
<rect x="406" y="265" width="331" height="93" fill="#fff"/>
<rect x="510" y="265" width="185" height="93" fill="#eef4fc"/>
<path class="s" stroke="#1a2aa0" stroke-width="1.3" fill="none" d="M415 290L430 335M433 292L448 335M451 294L462 336M469 294L480 336M487 294L498 336M505 294L516 336M523 294L534 336M541 294L552 336M559 294L570 336M577 294L588 336M595 294L606 336M613 294L624 336M631 294L642 336M649 294L660 336M667 294L678 336M685 294L696 336M703 294L714 336M721 294L735 336"/>
<g fill="#1a2aa0"><rect x="412" y="322" width="320" height="12" opacity="0.35"/></g>
<rect x="406" y="378" width="331" height="232" fill="#87cefa"/>
<rect x="510" y="378" width="185" height="232" fill="#6cb2ec" opacity="0.5"/>
<g fill="#a82828"><circle cx="410" cy="495" r="7"/><circle cx="430" cy="495" r="7"/><circle cx="450" cy="443" r="7"/><circle cx="470" cy="443" r="7"/><circle cx="493" cy="450" r="7"/><circle cx="513" cy="420" r="7"/><circle cx="533" cy="418" r="7"/><circle cx="553" cy="418" r="7"/><circle cx="573" cy="418" r="7"/><circle cx="595" cy="423" r="7"/><circle cx="615" cy="418" r="7"/><circle cx="635" cy="418" r="7"/><circle cx="655" cy="418" r="7"/><circle cx="675" cy="418" r="7"/><circle cx="697" cy="418" r="7"/><circle cx="717" cy="418" r="7"/><circle cx="737" cy="418" r="7"/></g>
<g fill="#000"><circle cx="575" cy="438" r="7"/><circle cx="595" cy="462" r="7"/><circle cx="615" cy="472" r="7"/><circle cx="635" cy="480" r="7"/><circle cx="655" cy="513" r="7"/><circle cx="677" cy="527" r="7"/><circle cx="697" cy="545" r="7"/><circle cx="717" cy="515" r="7"/><circle cx="553" cy="533" r="7"/></g>
<g fill="#606060"><circle cx="430" cy="513" r="7"/><circle cx="450" cy="547" r="7"/><circle cx="470" cy="547" r="7"/><circle cx="493" cy="547" r="7"/><circle cx="513" cy="545" r="7"/><circle cx="533" cy="547" r="7"/><circle cx="573" cy="540" r="7"/><circle cx="635" cy="515" r="7"/><circle cx="655" cy="545" r="7"/><circle cx="553" cy="572" r="7"/></g>
<g fill="#c8c8c8"><circle cx="430" cy="570" r="7"/><circle cx="513" cy="540" r="7"/><circle cx="595" cy="527" r="7"/><circle cx="655" cy="570" r="7"/><circle cx="677" cy="570" r="7"/><circle cx="697" cy="570" r="7"/><circle cx="410" cy="585" r="7"/></g>
<g fill="#fff"><circle cx="450" cy="572" r="7"/><circle cx="493" cy="570" r="7"/><circle cx="553" cy="598" r="7"/><circle cx="575" cy="572" r="7"/><circle cx="655" cy="598" r="7"/><circle cx="677" cy="598" r="7"/><circle cx="697" cy="598" r="7"/><circle cx="717" cy="598" r="7"/></g>
<polyline class="s" fill="none" stroke="#ffa000" stroke-width="2.2" points="406,480 430,480 450,465 500,460 540,463 560,470 600,480 650,490 680,490 737,480"/>
<rect x="406" y="640" width="331" height="232" fill="#87cefa"/>
<polygon fill="#9a9a9a" points="406,872 406,800 430,770 470,780 500,760 540,720 580,700 600,660 640,650 680,650 700,660 737,740 737,872"/>
<polygon fill="#fff" points="500,840 520,780 560,740 580,760 560,820 520,850"/>
<polygon fill="#585858" points="406,872 406,790 430,760 460,800 500,830 540,860 570,850 600,760 630,700 660,680 690,700 720,760 737,800 737,872"/>
<polygon fill="#333" points="406,872 406,850 430,845 460,860 500,872"/>
<polyline class="s" fill="none" stroke="#fff" stroke-width="1.2" points="560,872 600,760 620,690 660,650 700,640 737,720"/>
<g fill="#ffb000"><rect x="652" y="840" width="6" height="32"/><rect x="674" y="840" width="6" height="32"/><rect x="695" y="840" width="6" height="32"/><rect x="716" y="840" width="6" height="32"/></g>
</g>
<g fill="url(#mg)"><rect x="135" y="57" width="111" height="77"/><rect x="135" y="143" width="111" height="77"/><rect x="135" y="229" width="111" height="73"/><rect x="135" y="315" width="111" height="77"/><rect x="135" y="398" width="111" height="31"/><rect x="135" y="436" width="111" height="77"/><rect x="135" y="523" width="111" height="78"/></g>
<g fill="url(#hg)"><rect x="135" y="77" width="111" height="1"/><rect x="135" y="94" width="111" height="1"/><rect x="135" y="111" width="111" height="1"/><rect x="135" y="150" width="111" height="1"/><rect x="135" y="168" width="111" height="1"/><rect x="135" y="185" width="111" height="1"/><rect x="135" y="203" width="111" height="1"/><rect x="135" y="230" width="111" height="1"/><rect x="135" y="254" width="111" height="1"/><rect x="135" y="277" width="111" height="1"/><rect x="135" y="301" width="111" height="1"/><rect x="135" y="335" width="111" height="1"/><rect x="135" y="354" width="111" height="1"/><rect x="135" y="373" width="111" height="1"/><rect x="135" y="455" width="111" height="1"/><rect x="135" y="475" width="111" height="1"/><rect x="135" y="495" width="111" height="1"/><rect x="135" y="542" width="111" height="1"/><rect x="135" y="562" width="111" height="1"/><rect x="135" y="582" width="111" height="1"/></g>
<g fill="none" stroke="#000"><rect x="135.5" y="57.5" width="110" height="76"/><rect x="135.5" y="143.5" width="110" height="77"/><rect x="135.5" y="229.5" width="110" height="73"/><rect x="135.5" y="315.5" width="110" height="77"/><rect x="135.5" y="398.5" width="110" height="31"/><rect x="135.5" y="436.5" width="110" height="77"/><rect x="135.5" y="523.5" width="110" height="78"/></g>

<g text-anchor="end" style="font-size:12px"><text x="131" y="63" style="font-size:12px">30</text><text x="131" y="81" style="font-size:12px">20</text><text x="131" y="98" style="font-size:12px">10</text><text x="131" y="115" style="font-size:12px">0</text><text x="131" y="132" style="font-size:12px">-10</text>
<text x="131" y="154" style="font-size:12px">2.0</text><text x="131" y="172" style="font-size:12px">1.5</text><text x="131" y="189" style="font-size:12px">1.0</text><text x="131" y="207" style="font-size:12px">0.5</text><text x="131" y="224" style="font-size:12px">0.0</text>
<text x="131" y="234" style="font-size:12px">1018</text><text x="131" y="258" style="font-size:12px">1016</text><text x="131" y="281" style="font-size:12px">1014</text><text x="131" y="305" style="font-size:12px">1012</text>
<text x="131" y="319" style="font-size:12px">20</text><text x="131" y="339" style="font-size:12px">15</text><text x="131" y="358" style="font-size:12px">10</text><text x="131" y="377" style="font-size:12px">5</text><text x="131" y="396" style="font-size:12px">0</text>
<text x="131" y="440" style="font-size:12px">15.0</text><text x="131" y="459" style="font-size:12px">7.0</text><text x="131" y="479" style="font-size:12px">2.0</text><text x="131" y="499" style="font-size:12px">0.5</text><text x="131" y="517" style="font-size:12px">0.0</text>
<text x="131" y="527" style="font-size:12px">8</text><text x="131" y="546" style="font-size:12px">6</text><text x="131" y="566" style="font-size:12px">4</text><text x="131" y="586" style="font-size:12px">2</text><text x="131" y="605" style="font-size:12px">0</text></g>
<g><text x="253" y="63" style="font-size:12px">30</text><text x="253" y="81" style="font-size:12px">20</text><text x="253" y="98" style="font-size:12px">10</text><text x="253" y="115" style="font-size:12px">0</text><text x="250" y="132" style="font-size:12px">-10</text>
<g fill="#e85020"><text x="253" y="154" style="font-size:12px">96</text><text x="253" y="172" style="font-size:12px">84</text><text x="253" y="189" style="font-size:12px">73</text><text x="253" y="207" style="font-size:12px">61</text><text x="253" y="224" style="font-size:12px">50</text></g>
<text x="250" y="234" style="font-size:12px">1018</text><text x="250" y="258" style="font-size:12px">1016</text><text x="250" y="281" style="font-size:12px">1014</text><text x="250" y="305" style="font-size:12px">1012</text>
<text x="253" y="319" style="font-size:12px">72</text><text x="253" y="339" style="font-size:12px">54</text><text x="253" y="358" style="font-size:12px">36</text><text x="253" y="377" style="font-size:12px">18</text><text x="253" y="396" style="font-size:12px">0</text>
<g fill="#f08c00"><text x="250" y="440" style="font-size:12px">100</text><text x="253" y="459" style="font-size:12px">20</text><text x="253" y="479" style="font-size:12px">5</text><text x="253" y="499" style="font-size:12px">1</text><text x="253" y="517" style="font-size:12px">0</text>
<text x="253" y="527" style="font-size:12px">1</text><text x="250" y="546" style="font-size:12px">0.75</text><text x="253" y="566" style="font-size:12px">0.5</text><text x="250" y="586" style="font-size:12px">0.25</text><text x="253" y="605" style="font-size:12px">0</text></g></g>

<!-- legend texts -->
<g>
<text x="5" y="19">Czas lokalny</text><text x="5" y="30">(CET/CEST)</text>
<text x="6" y="47" fill="#a82828">Temperatura gruntu</text><text x="28" y="56" fill="#a82828">max/min</text>
<text x="5" y="68">Temperatura:</text>
<text x="13" y="81" fill="#ee1111">punkt środkowy</text>
<text x="28" y="91" fill="#f8c8b8">max/min</text>
<text x="10" y="102" fill="#1020d0">odczuwana</text>
<text x="28" y="112" fill="#a8dcfc">max/min</text>
<text x="5" y="124" fill="#6a5acd">Temp. punktu rosy</text>
<text x="5" y="141" fill="#ee1111">Opad powyżej skali</text>
<text x="5" y="156" fill="#e85020">Wilgotność względna</text>
<text x="5" y="170">Wystąpienie burzy</text>
<text x="5" y="183" fill="#11aa11">Deszcz: max</text><text x="48" y="195" fill="#11aa11">średni</text>
<text x="5" y="205" fill="#1f3fd6">Śnieg:</text><text x="48" y="205" fill="#1f3fd6">max</text><text x="48" y="216" fill="#1f3fd6">średni</text>
<text x="5" y="228" fill="#ee1111">Wystąpienie opadu</text><text x="5" y="241" fill="#ee1111">konwekcyjnego</text>
<text x="5" y="268">Ciśnienie</text><text x="5" y="281">zredukowane</text><text x="5" y="293">do poziomu morza</text>
<text x="5" y="321">Wiatr na 10m:</text>
<text x="10" y="339" fill="#ee1111">poryw powyżej skali</text>
<text x="10" y="352" fill="#ee1111">max porywy wiatru</text>
<text x="10" y="372" fill="#1a2aa0">prędkość wiatru</text><text x="10" y="385" fill="#1a2aa0">w środku obszaru</text>
<text x="10" y="413" fill="#1a2aa0">kierunek wiatru</text>
<text x="5" y="433" fill="#a82828">Wierzchołek chmur</text>
<text x="5" y="448">Podstawa chmur*</text><text x="5" y="460">o pokryciu</text>
<text x="10" y="471">&gt; 7.9 okt.</text>
<text x="10" y="483" fill="#505050">&gt; 6.5 okt.</text>
<text x="10" y="495" fill="#a0a0a0">&gt; 4.5 okt.</text>
<text x="10" y="505" fill="#d0d0d0">&gt; 2.5 okt.</text>
<rect x="9" y="505" width="47" height="12" fill="#87cefa"/>
<text x="10" y="515" fill="#fff">&gt; 0.1 okt.</text>
<text x="5" y="530" fill="#f08c00">Widzialność</text>
<text x="5" y="546">Chmury:</text>
<rect x="9" y="550" width="42" height="12" fill="#87cefa"/>
<text x="10" y="561" fill="#fff">wysokie</text>
<text x="10" y="573" fill="#a0a0a0">średnie</text>
<text x="10" y="586" fill="#404040">niskie</text>
<text x="10" y="597">bardzo niskie</text>
<text x="5" y="609" fill="#f0b000">Mgła</text>
<text x="5" y="626" style="font-size:12px">Czas uniwersalny (UTC)</text>
<text x="5" y="651" style="font-size:9px;font-weight:bold">* powyżej poziomu morza</text>
</g>
<g fill="none" stroke-width="1">
<path d="M68 15H137L157 45" stroke="#000"/>
<path d="M100 44H122L150 110" stroke="#a82828"/>
<path d="M92 77H117M130 77L150 100" stroke="#ee1111"/>
<path d="M66 98H117M130 98L150 104" stroke="#1020d0"/>
<path d="M95 120H150" stroke="#6a5acd"/>
<path d="M101 137H146V147" stroke="#ee1111"/>
<path d="M110 152H117M130 152L145 160" stroke="#e85020"/>
<path d="M97 166H117M130 166L138 170" stroke="#000"/>
<path d="M68 179H139V173" stroke="#11aa11"/>
<path d="M80 191H145" stroke="#11aa11"/>
<path d="M70 201H117M130 201L160 171" stroke="#1f3fd6"/>
<path d="M80 212H137L160 185" stroke="#1f3fd6"/>
<path d="M98 224H140L145 219" stroke="#ee1111"/>
<path d="M56 264H135" stroke="#000"/>
<path d="M112 335H117M128 335L137 318" stroke="#ee1111"/>
<path d="M100 348H130L145 338" stroke="#ee1111"/>
<path d="M92 368H137" stroke="#1a2aa0"/>
<path d="M85 409H140" stroke="#1a2aa0"/>
<path d="M100 429H150L180 447" stroke="#a82828"/>
<path d="M64 467H135L190 455" stroke="#000"/>
<path d="M64 479H143" stroke="#505050"/>
<path d="M64 491H130L137 503" stroke="#a0a0a0"/>
<path d="M64 501H135" stroke="#d0d0d0"/>
<path d="M56 509H140M56 512H140" stroke="#87cefa"/>
<path d="M70 527H125L145 505L170 465" stroke="#f0a000"/>
<path d="M51 555H180M51 558H180" stroke="#87cefa"/>
<path d="M58 569H190" stroke="#a0a0a0"/>
<path d="M45 582H125" stroke="#000"/>
<path d="M75 594H140" stroke="#000"/>
<path d="M30 605H218V590" stroke="#f0b000"/>
<path d="M140 622H146L156 604" stroke="#000"/>
</g>
</svg>
</body></html>
